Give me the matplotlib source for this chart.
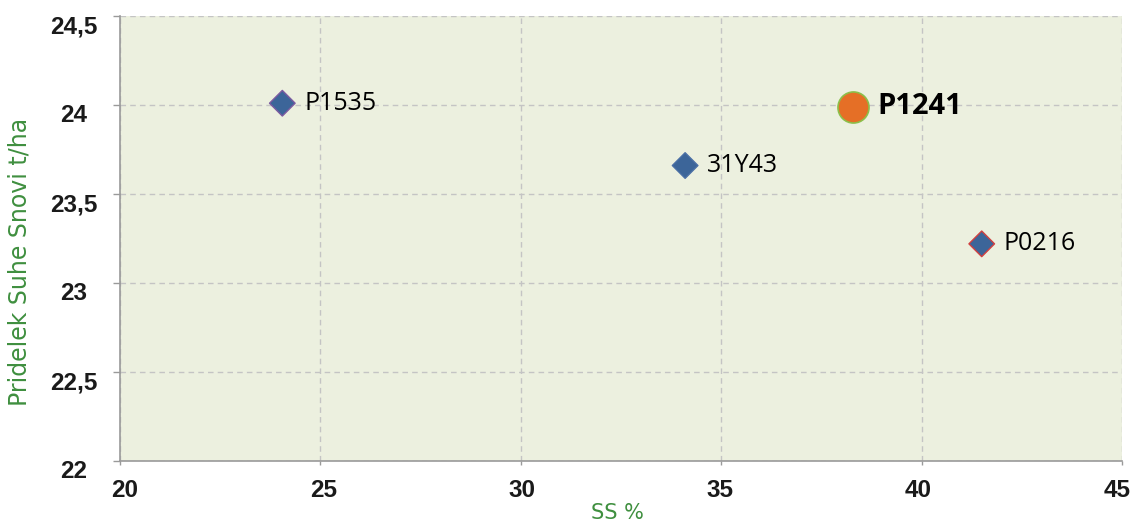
import matplotlib.pyplot as plt
from matplotlib.transforms import ScaledTranslation

hybrids = ['P1535', '31Y43', 'P0216']
ss = [24.05, 34.1, 41.5]
yield_t = [24.01, 23.66, 23.22]
edges = ['#7b5aa0', '#4a6fa5', '#d04040']

star_name = 'P1241'
star_ss = 38.3
star_yield = 23.99

xticks = [20, 25, 30, 35, 40, 45]
yticks = [22, 22.5, 23, 23.5, 24, 24.5]
ytick_labels = ['22', '22,5', '23', '23,5', '24', '24,5']

green = '#3f8f3f'

fig = plt.figure(figsize=(11.31, 5.22), dpi=100)
ax = fig.add_axes([120 / 1131, 61 / 522, 1002 / 1131, 445 / 522])
ax.set_facecolor('#ecf0df')

ax.scatter(ss, yield_t, marker='D', s=170, color='#3c6599', edgecolors=edges,
           linewidths=1.0, zorder=3)
ax.scatter([star_ss], [star_yield], marker='o', s=500, color='#e56f26',
           edgecolors='#8cbf4a', linewidths=1.2, zorder=3)

for name, x, y in zip(hybrids, ss, yield_t):
    ax.annotate(name, (x, y), xytext=(16, 0), textcoords='offset points',
                va='center', ha='left', fontsize=18, family='Open Sans')
ax.annotate(star_name, (star_ss, star_yield), xytext=(17, 0),
            textcoords='offset points', va='center', ha='left', fontsize=21,
            fontweight='bold', family='Open Sans')

ax.set_xlim(20, 45)
ax.set_ylim(22, 24.5)
ax.set_xticks(xticks)
ax.set_yticks(yticks)
ax.set_yticklabels(ytick_labels, ha='center')

ax.grid(True, linestyle=(0, (4, 3)), color='#c4c4c4', linewidth=1.0)
ax.set_axisbelow(True)
for side in ['top', 'right']:
    ax.spines[side].set_visible(False)
for side in ['left', 'bottom']:
    ax.spines[side].set_color('#9a9a9a')
    ax.spines[side].set_linewidth(1.2)
ax.tick_params(axis='y', color='#9a9a9a', length=5, width=1.0, pad=28.5)
ax.tick_params(axis='x', color='#9a9a9a', length=3, width=1.0, pad=10)

for lab in ax.get_xticklabels() + ax.get_yticklabels():
    lab.set_family('Liberation Sans')
    lab.set_fontweight('bold')
    lab.set_fontsize(17.5)
    lab.set_color('#1a1a1a')
# y labels sit a bit below their ticks, x labels are squeezed inwards
for lab in ax.get_yticklabels():
    lab.set_transform(lab.get_transform() +
                      ScaledTranslation(0, -8 / 100, fig.dpi_scale_trans))
for v, lab in zip(xticks, ax.get_xticklabels()):
    dx = (5 - 0.4 * (v - 20)) / 100
    lab.set_transform(lab.get_transform() +
                      ScaledTranslation(dx, 0, fig.dpi_scale_trans))

ax.set_xlabel('SS %', color=green, fontsize=15, family='DejaVu Sans')
ax.xaxis.set_label_coords(0.496, -0.095)
ax.set_ylabel('Pridelek Suhe Snovi t/ha', color=green, fontsize=17,
              family='DejaVu Sans')
ax.yaxis.set_label_coords(-0.088, 0.447)

fig.savefig('out.png', dpi=100)
